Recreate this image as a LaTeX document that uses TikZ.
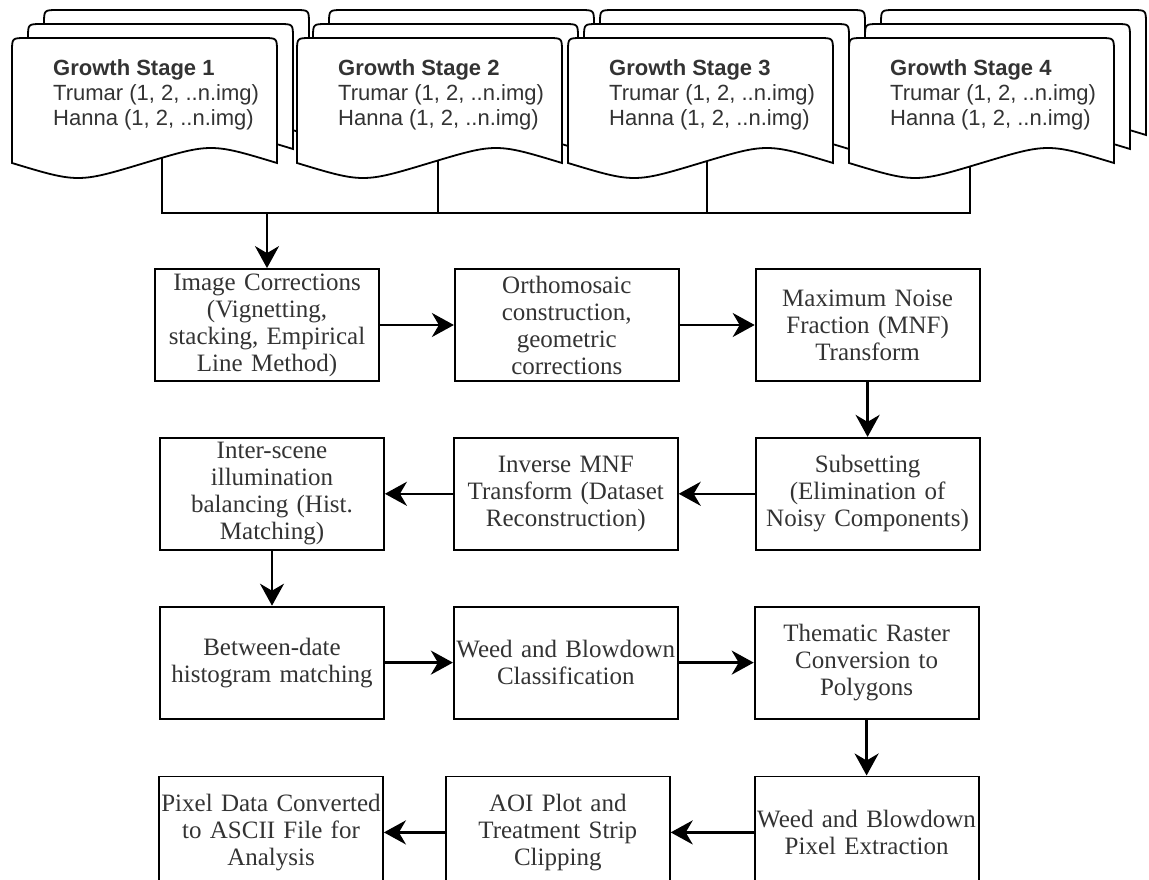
\documentclass[tikz,border=0pt]{standalone}
\usepackage{fontspec}
\setmainfont{Liberation Serif}
\setsansfont{Liberation Sans}
\usetikzlibrary{positioning,arrows.meta,backgrounds}

\begin{document}
\begin{tikzpicture}[x=1pt, y=-1pt, node distance=55pt]
    \useasboundingbox (0,0) rectangle (1149,880);
    \tikzstyle{stagedoc} = [draw=black, fill=white, line width=1.8pt]
    \tikzstyle{stagetext} = [anchor=west, inner sep=0pt, align=left, text=black!80, font=\sffamily\fontsize{22}{25}\selectfont]
    \foreach \i/\lx/\tx in {1/12/162, 2/297/438, 3/568/707, 4/849/970} {
        \foreach \dx/\dy in {32/-28, 16/-14, 0/0} {
            \begin{scope}[shift={(\dx,\dy)}]
                \draw[stagedoc] (\lx,163) -- (\lx,52) .. controls (\lx,38) .. (\lx+14,38) -- (\lx+251,38) .. controls (\lx+265,38) .. (\lx+265,52) -- (\lx+265,163) .. controls (\lx+199,143) .. (\lx+132.5,163) .. controls (\lx+66,183) .. (\lx,163) -- cycle;
            \end{scope}
        }
        \node (g\i) [stagetext] at (\lx+41,95) {\textbf{Growth Stage \i}\\Trumar (1, 2, ..n.img)\\Hanna (1, 2, ..n.img)};
        \coordinate (tap\i) at (\tx,213);
    }

    \tikzstyle{process} = [rectangle, draw=black, line width=1.8pt, minimum width=224pt, minimum height=112pt, text width=222pt, align=center, inner sep=0pt, text=black!80, font=\fontsize{25}{27}\selectfont]
    \tikzstyle{arrow} = [line width=2.6pt, -{Stealth[length=22pt, width=24pt, inset=7pt]}]
    \tikzstyle{line} = [line width=2.2pt]

    \node (ic) [process] at (267,325) {Image Corrections\\(Vignetting,\\stacking, Empirical\\Line Method)};
    \node (ortho) [process, right=74pt of ic] {Orthomosaic\\construction,\\geometric\\corrections};
    \node (mnf) [process, right=75pt of ortho] {Maximum Noise\\Fraction (MNF)\\Transform};
    \node (subset) [process, below=of mnf] {Subsetting\\(Elimination of\\Noisy Components)};
    \node (inv) [process, left=76pt of subset] {Inverse MNF\\Transform (Dataset\\Reconstruction)};
    \node (inter) [process, left=68pt of inv] {Inter-scene\\illumination\\balancing (Hist.\\Matching)};
    \node (between) [process, below=of inter] {Between-date\\histogram matching};
    \node (weedc) [process, right=68pt of between] {Weed and Blowdown\\Classification};
    \node (thematic) [process, right=75pt of weedc] {Thematic Raster\\Conversion to\\Polygons};
    \node (weedp) [process, below=56pt of thematic] {Weed and Blowdown\\Pixel Extraction};
    \node (aoi) [process, left=83pt of weedp] {AOI Plot and\\Treatment Strip\\Clipping};
    \node (pixel) [process, left=61pt of aoi] {Pixel Data Converted\\to ASCII File for\\Analysis};

    \coordinate (hub) at (ic.north |- tap1);
    \begin{scope}[on background layer]
        \foreach \i in {1,...,4}
            \draw [line] (g\i.south -| tap\i) -- (tap\i) -- (hub);
    \end{scope}
    \draw [arrow] (hub) -- (ic);
    \draw [arrow] (ic) -- (ortho);
    \draw [arrow] (ortho) -- (mnf);
    \draw [arrow] (mnf) -- (subset);
    \draw [arrow] (subset) -- (inv);
    \draw [arrow] (inv) -- (inter);
    \draw [arrow] (inter) -- (between);
    \draw [arrow] (between) -- (weedc);
    \draw [arrow] (weedc) -- (thematic);
    \draw [arrow] (thematic) -- (weedp);
    \draw [arrow] (weedp) -- (aoi);
    \draw [arrow] (aoi) -- (pixel);
\end{tikzpicture}
\end{document}
